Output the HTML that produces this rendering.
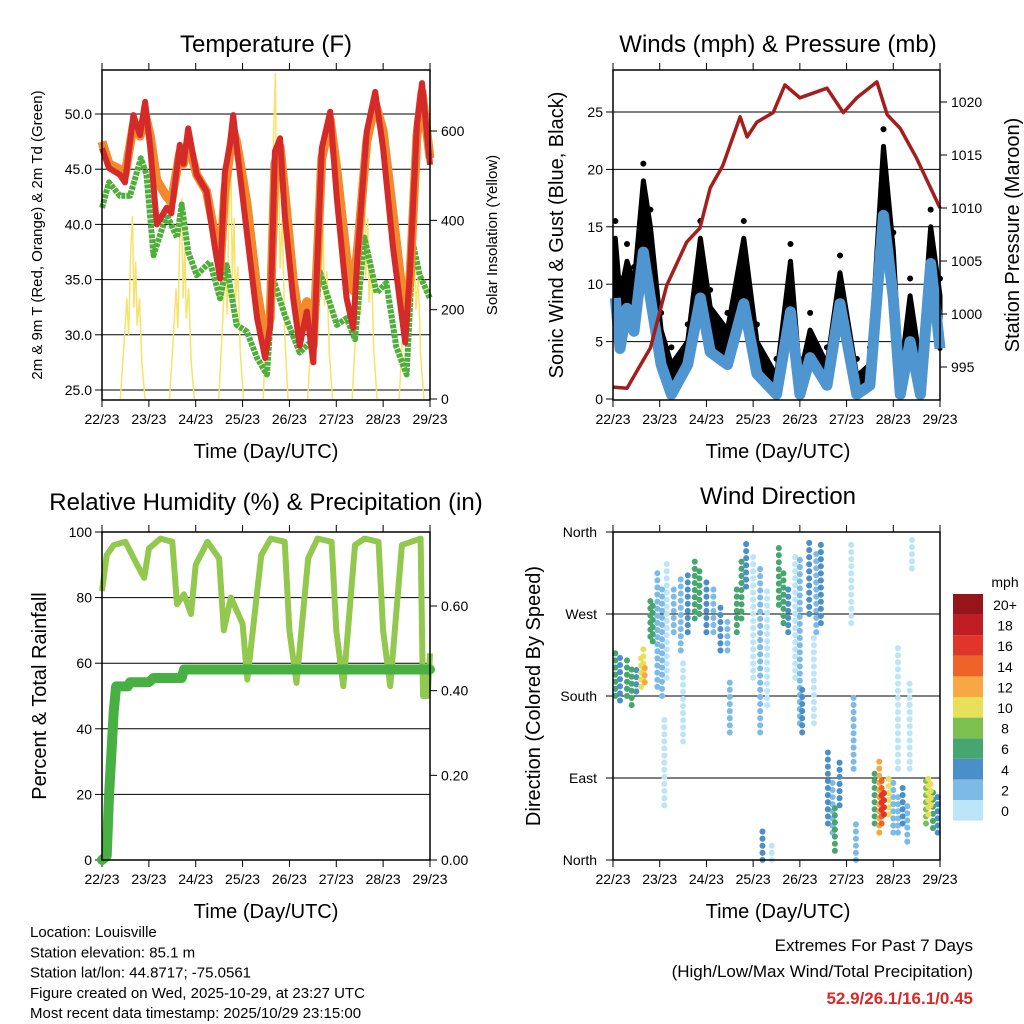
<!DOCTYPE html>
<html><head><meta charset="utf-8">
<style>
html,body{margin:0;padding:0;background:#fff;}
svg{display:block;font-family:"Liberation Sans",sans-serif;}
</style></head>
<body>
<svg id="c" width="1024" height="1024" viewBox="0 0 1024 1024"></svg>
<script>
// ---------- data ----------
const tempT=[0,0.15,0.38,0.49,0.67,0.81,0.92,1.03,1.17,1.38,1.48,1.66,1.74,1.84,2.02,2.23,2.41,2.52,2.62,2.73,2.8,2.87,3.09,3.31,3.48,3.59,3.69,3.8,3.9,4.08,4.22,4.37,4.51,4.69,4.87,5.01,5.22,5.36,5.46,5.65,5.83,6.0,6.21,6.47,6.57,6.72,6.83,7.0];
const tempRed=[46.9,45.1,44.5,43.8,49.9,48.1,51.1,46.9,40,41.5,41,47.2,45.5,48.7,44.5,43,37.9,35.1,44.7,47.2,49.9,47.2,39.3,31.5,27.9,30.8,46.6,47.8,40.9,33.3,29,32.1,27.5,46.9,50.2,42.4,33.3,30.6,37.5,48.4,52,46.9,37.9,29.3,35.6,49,52.8,45.4];
const tempOrange=[47.5,45.5,45,44.5,49,48,50,48,44,42.5,42,46.5,45.5,47.5,44.5,43,39,36,43,46.5,48.5,47.5,42,34,29.5,31.5,45.5,47,43,35,31,33,29,46,49.5,45,37,34,38,47.5,51,48.5,41,31.5,35,48,52,46];
const dewT=[0,0.15,0.38,0.6,0.83,0.95,1.1,1.38,1.6,1.7,1.84,2.02,2.3,2.52,2.66,2.87,3.09,3.31,3.52,3.66,3.9,4.22,4.51,4.65,5.01,5.22,5.4,5.6,5.86,6.07,6.28,6.5,6.64,6.78,7.0];
const dewVal=[41.5,43.8,42.6,42.6,46,44.5,37.2,40.9,38.8,41.8,37.5,35.4,36.6,33.3,36.3,30.9,30.3,27.9,26.4,35,31.8,28.4,29.6,35.7,30.9,31.5,29.6,38.8,33.8,34.7,28.9,26.4,38.2,35.4,33.3];
const solarPeakT=[0.65,1.7,2.75,3.7,4.65,5.6,6.6];
const solarPeakV=[410,450,540,730,520,540,500];
const windT=[0.05,0.15,0.3,0.45,0.65,0.8,1.03,1.25,1.6,1.87,2.08,2.45,2.8,3.08,3.5,3.8,4.0,4.22,4.58,4.86,5.22,5.5,5.79,6.0,6.15,6.36,6.58,6.8,7.0];
const windSpd=[8.8,4.4,7.9,5.9,12.8,8.8,3,0.4,3,8.8,4.1,3,8.3,2.2,0.4,7.6,0.4,3.6,1.2,8.3,0.4,1.2,16,8.8,0.4,5,0.4,11.8,4.4];
const windGust=[14,9,12,10,19,15,6,3,5,14,8,6,14,5,2,12,2,6,3,11,2,3,22,13,2,9,3,15,9];
const presT=[0,0.3,0.8,1.15,1.58,1.86,2.08,2.35,2.72,2.87,3.08,3.43,3.68,4.0,4.58,4.93,5.22,5.65,5.87,6.15,6.5,7.0];
const presVal=[993.1,993,996.8,1002.7,1006.8,1008.1,1011.9,1014,1018.6,1016.7,1018.1,1019,1021.6,1020.4,1021.3,1019,1020.4,1021.9,1018.8,1017.5,1014.7,1010];
const rhT=[0,0.1,0.25,0.5,0.75,0.9,1.0,1.25,1.5,1.6,1.75,1.9,2.0,2.25,2.5,2.6,2.75,3.0,3.1,3.4,3.6,3.9,4.0,4.15,4.4,4.6,4.9,5.0,5.15,5.4,5.6,5.9,6.0,6.15,6.4,6.6,6.8,6.85,6.95,7.0];
const rhVal=[82,93,96,97,90,86,95,98,97,78,81,75,90,97,92,70,80,72,55,93,98,97,70,54,92,98,97,70,53,96,98,97,70,53,96,97,98,50,50,63];
const rainT=[0,0.1,0.15,0.25,0.3,0.55,0.6,1.0,1.1,1.7,1.75,7.0];
const rainVal=[0,0.01,0.15,0.35,0.41,0.41,0.42,0.42,0.43,0.43,0.45,0.45];
const wdT=[0.05,0.15,0.3,0.4,0.5,0.6,0.68,0.65,0.8,0.85,0.95,1.05,1.15,1.1,1.3,1.45,1.6,1.5,1.75,1.85,2.0,2.15,2.3,2.45,2.5,2.65,2.75,2.85,3.0,3.15,3.3,3.2,3.4,3.55,3.65,3.75,3.9,4.0,4.05,4.2,4.35,4.45,4.3,4.6,4.7,4.75,4.85,5.1,5.15,5.2,5.6,5.7,5.75,5.8,5.75,5.9,6.0,6.1,6.2,6.3,6.1,6.4,6.35,6.7,6.75,6.85,6.95,6.8];
const wdLow=[180,175,180,170,185,190,195,200,245,240,190,180,200,60,250,230,250,130,265,270,250,250,230,230,140,250,265,300,200,140,170,0,0,280,260,250,200,150,140,270,250,260,150,40,30,10,60,260,100,0,40,30,40,50,55,50,30,30,40,20,100,320,100,40,50,35,30,60];
const wdHigh=[230,225,220,210,215,225,215,235,285,280,320,300,330,160,300,310,320,220,330,320,310,300,280,265,200,300,330,350,340,320,300,35,20,350,320,300,340,330,190,350,340,350,250,120,90,60,110,350,180,40,100,110,90,80,75,95,85,70,80,60,240,355,200,90,90,80,70,85];
const wdSpd=[6,4,7,6,4,10,12,11,7,6,2,2,1,1,3,3,4,1,7,6,4,3,4,3,3,7,6,4,1,2,1,4,1,7,6,4,1,2,4,4,3,4,1,4,3,7,4,1,2,2,7,12,14,16,17,10,3,2,4,3,1,1,1,8,10,6,4,11];
const cbLabels=["0","2","4","6","8","10","12","14","16","18","20+"];
const cbColors=["#bce5f8","#7dbbe6","#4a8fc8","#47a56f","#7cc04d","#e8e05a","#f7a842","#f06328","#e0352a","#c11b24","#96151a"];
const tempTicks=[25,30,35,40,45,50];
const solarTicks=[0,200,400,600];
const windTicks=[0,5,10,15,20,25];
const presTicks=[995,1000,1005,1010,1015,1020];
const rhTicks=[0,20,40,60,80,100];
const rainTicks=[0,0.2,0.4,0.6];
const dirTicks=[0,90,180,270,360];
const dirNames=["North","East","South","West","North"];
const dayLabels=["22/23","23/23","24/23","25/23","26/23","27/23","28/23","29/23"];

// ---------- helpers ----------
const NS="http://www.w3.org/2000/svg";
const svg=document.getElementById('c');
function el(tag,attrs,parent,txt){const e=document.createElementNS(NS,tag);for(const k in attrs)e.setAttribute(k,attrs[k]);if(txt!==undefined)e.textContent=txt;(parent||svg).appendChild(e);return e;}
function lin(d0,d1,r0,r1){return v=>r0+(v-d0)*(r1-r0)/(d1-d0);}
function pathOf(xs,ys,fx,fy){return xs.map((t,i)=>(i?'L':'M')+fx(t).toFixed(1)+','+fy(ys[i]).toFixed(1)).join('');}

function frame(name,x0,x1,y0,y1,yTicks,yFn,yFmt,gridVals){
  const g=el('g',{});
  
  
  const gx=lin(0,7,x0,x1);
  gridVals.forEach(v=>{const l=el('line',{x1:x0,x2:x1,y1:yFn(v),y2:yFn(v),stroke:'#000','stroke-width':1},g);});
  dayLabels.forEach((d,i)=>{
    const x=gx(i);
    el('line',{x1:x,x2:x,y1:y0-7,y2:y0,stroke:'#000','stroke-width':1},g);
    el('line',{x1:x,x2:x,y1:y1,y2:y1+7,stroke:'#000','stroke-width':1},g);
    const t=el('text',{x:x,y:y1+24,'font-size':14,'text-anchor':'middle'},g,d);
    
  });
  yTicks.forEach(v=>{
    const y=yFn(v);
    el('line',{x1:x0-7,x2:x0,y1:y,y2:y,stroke:'#000'},g);
    const t=el('text',{x:x0-10,y:y+5,'font-size':14,'text-anchor':'end'},g,yFmt(v));
    
  });
  return {g,gx};
}
function box(x0,x1,y0,y1){const r=el('rect',{x:x0,y:y0,width:x1-x0,height:y1-y0,fill:'none',stroke:'#000','stroke-width':1.5});}
function rightTicks(x1,ticks,fn,fmt){ticks.forEach(v=>{const y=fn(v);el('line',{x1:x1,x2:x1+7,y1:y,y2:y,stroke:'#000'});const t=el('text',{x:x1+11,y:y+5,'font-size':14},svg,fmt(v));});}
function title(x,y,s,size,name){const t=el('text',{x:x,y:y,'font-size':size,'text-anchor':'middle'},svg,s);return t;}
function vtitle(x,y,s,size,name){const t=el('text',{x:0,y:0,'font-size':size,'text-anchor':'middle',transform:`translate(${x},${y}) rotate(-90)`},svg,s);}

// ---------- Panel 1: Temperature ----------
(function(){
  const x0=102,x1=430,y0=70,y1=400;
  const fy=lin(25,50,390,114), fs=lin(0,600,399,131);
  const {gx}=frame('temperature-panel',x0,x1,y0,y1,tempTicks,fy,v=>v.toFixed(1),tempTicks);
  const offs=[-0.26,-0.18,-0.12,-0.08,-0.04,0,0.03,0.07,0.1,0.15,0.2,0.27];
  const mult=[0,0.3,0.55,0.35,0.8,1,0.5,0.75,0.4,0.55,0.2,0];
  solarPeakT.forEach((t,i)=>{
    const d=offs.map((o,k)=>(k?'L':'M')+gx(Math.min(7,t+o)).toFixed(1)+','+fs(solarPeakV[i]*mult[k]).toFixed(1)).join('');
    const p=el('path',{d:d,fill:'none',stroke:'#f7e36a','stroke-width':1.5});
    
  });
  let p=el('path',{d:pathOf(dewT,dewVal,gx,fy),fill:'none',stroke:'#4fae3c','stroke-width':6,'stroke-dasharray':'4 1','stroke-linejoin':'round'});
  
  p=el('path',{d:pathOf(tempT,tempOrange,gx,fy),fill:'none',stroke:'#f08a2c','stroke-width':9,'stroke-linejoin':'round'});
  
  p=el('path',{d:pathOf(tempT,tempRed,gx,fy),fill:'none',stroke:'#d42a28','stroke-width':6,'stroke-linejoin':'round'});
  
  box(x0,x1,y0,y1);
  rightTicks(x1,solarTicks,fs,v=>String(v));
  title(266,52,'Temperature (F)',24,'temperature-title');
  title(266,458,'Time (Day/UTC)',20,'temperature-x-title');
  vtitle(42,235,'2m & 9m T (Red, Orange) & 2m Td (Green)',15,'temperature-y-title');
  vtitle(497,235,'Solar Insolation (Yellow)',15,'solar-y-title');
})();

// ---------- Panel 2: Winds ----------
(function(){
  const x0=613,x1=940,y0=70,y1=400;
  const fy=lin(0,25,399,112), fp=lin(995,1020,367,102);
  const {gx}=frame('winds-panel',x0,x1,y0,y1,windTicks,fy,v=>String(v),windTicks.slice(1));
  const up=windT.map((t,i)=>(i?'L':'M')+gx(t).toFixed(1)+','+fy(windGust[i]).toFixed(1)).join('');
  const down=windT.slice().reverse().map((t,j)=>{const i=windT.length-1-j;return 'L'+gx(t).toFixed(1)+','+fy(windSpd[i]).toFixed(1);}).join('');
  let p=el('path',{d:up+down+'Z',fill:'#000',stroke:'#000','stroke-width':5,'stroke-linejoin':'round'});
  
  windT.forEach((t,i)=>{
    const c=el('circle',{cx:gx(t),cy:fy(windGust[i]+1.5),r:3,fill:'#000'});
    
  });
  p=el('path',{d:pathOf(windT,windSpd,gx,fy),fill:'none',stroke:'#4f95cf','stroke-width':11,'stroke-linejoin':'round'});
  
  p=el('path',{d:pathOf(presT,presVal,gx,fp),fill:'none',stroke:'#a51d1d','stroke-width':3.5,'stroke-linejoin':'round'});
  
  box(x0,x1,y0,y1);
  rightTicks(x1,presTicks,fp,v=>String(v));
  title(778,52,'Winds (mph) & Pressure (mb)',24,'winds-title');
  title(778,458,'Time (Day/UTC)',20,'winds-x-title');
  vtitle(563,235,'Sonic Wind & Gust (Blue, Black)',20,'wind-y-title');
  vtitle(1019,235,'Station Pressure (Maroon)',20,'pressure-y-title');
})();

// ---------- Panel 3: RH & Precip ----------
(function(){
  const x0=102,x1=430,y0=532,y1=860;
  const fy=lin(0,100,860,532), fr=lin(0,0.6,860,606);
  const {gx}=frame('humidity-panel',x0,x1,y0,y1,rhTicks,fy,v=>String(v),[20,40,60,80]);
  let p=el('path',{d:pathOf(rhT,rhVal,gx,fy),fill:'none',stroke:'#93c84e','stroke-width':6,'stroke-linejoin':'round'});
  
  p=el('path',{d:pathOf(rainT,rainVal,gx,fr),fill:'none',stroke:'#48b043','stroke-width':10,'stroke-linejoin':'round','stroke-linecap':'round'});
  
  box(x0,x1,y0,y1);
  rightTicks(x1,rainTicks,fr,v=>v.toFixed(2));
  title(266,510,'Relative Humidity (%) & Precipitation (in)',24,'humidity-title');
  title(266,918,'Time (Day/UTC)',20,'humidity-x-title');
  vtitle(46,696,'Percent & Total Rainfall',20,'humidity-y-title');
})();

// ---------- Panel 4: Wind direction ----------
(function(){
  const x0=613,x1=940,y0=532,y1=860;
  const fy=lin(0,360,860,532);
  const {g,gx}=frame('wind-direction-panel',x0,x1,y0,y1,[],fy,v=>'',[90,180,270]);
  dirTicks.forEach((v,i)=>{const y=fy(v);el('line',{x1:x0-7,x2:x0,y1:y,y2:y,stroke:'#000'});
    const t=el('text',{x:x0-16,y:y+5,'font-size':14,'text-anchor':'end'},svg,dirNames[i]);});
  const idx=wdT.map((t,i)=>i).sort((a,b)=>wdSpd[a]-wdSpd[b]);
  idx.forEach(i=>{
    const bin=Math.min(10,Math.floor(wdSpd[i]/2));
    const l=el('line',{x1:gx(wdT[i]),x2:gx(wdT[i]),y1:fy(wdLow[i]),y2:fy(wdHigh[i]),stroke:cbColors[bin],'stroke-width':6,'stroke-linecap':'round','stroke-dasharray':'0.1 7'});
    
  });
  box(x0,x1,y0,y1);
  cbColors.forEach((c,i)=>{
    const y=800-i*20.6;
    const r=el('rect',{x:953,y:y,width:30,height:20.6,fill:c});
    
    const t=el('text',{x:1005,y:y+16,'font-size':14,'text-anchor':'middle'},svg,cbLabels[i]);
    
  });
  title(1005,587,'mph',14,'colorbar-title');
  title(778,504,'Wind Direction',24,'wind-direction-title');
  title(778,918,'Time (Day/UTC)',20,'wind-direction-x-title');
  vtitle(540,696,'Direction (Colored By Speed)',20,'direction-y-title');
})();

// ---------- Footer text ----------
const info=["Location: Louisville","Station elevation: 85.1 m","Station lat/lon: 44.8717; -75.0561","Figure created on Wed, 2025-10-29, at 23:27 UTC","Most recent data timestamp: 2025/10/29 23:15:00"];
info.forEach((s,i)=>{const t=el('text',{x:30,y:937+i*20.3,'font-size':15},svg,s);});
let t=el('text',{x:973,y:951,'font-size':17,'text-anchor':'end'},svg,'Extremes For Past 7 Days');
t=el('text',{x:973,y:977,'font-size':17,'text-anchor':'end'},svg,'(High/Low/Max Wind/Total Precipitation)');
t=el('text',{x:973,y:1004,'font-size':17,'text-anchor':'end','font-weight':'bold',fill:'#d42a28'},svg,'52.9/26.1/16.1/0.45');
</script>
</body></html>
